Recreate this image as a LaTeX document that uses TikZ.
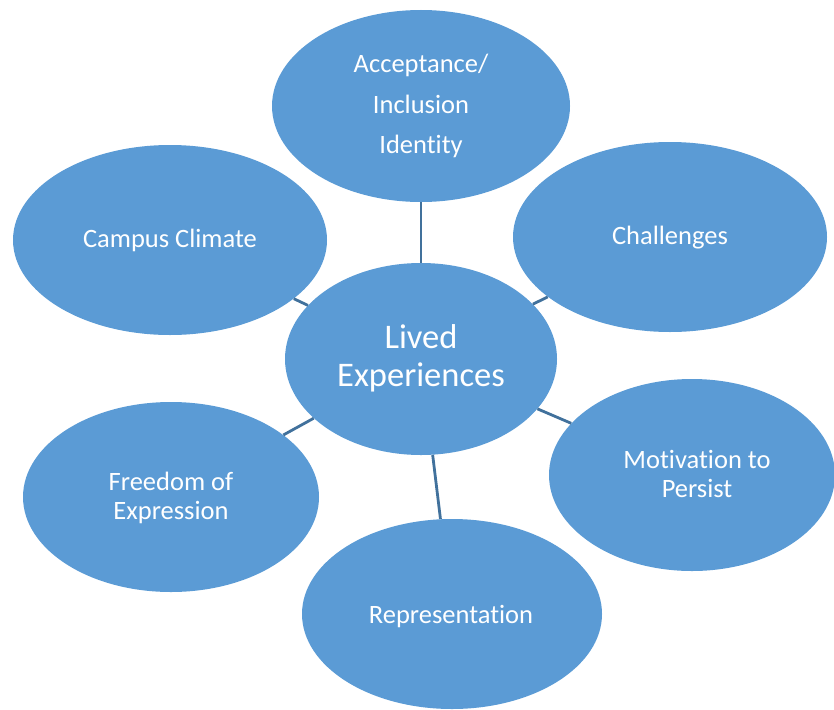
\documentclass[tikz,border=0pt]{standalone}
\usepackage{fontspec}
\setmainfont[Ligatures=NoCommon]{Carlito}
\usetikzlibrary{shapes.geometric}
\definecolor{bubble}{HTML}{5B9BD5}
\definecolor{link}{HTML}{41719C}
\begin{document}
\begin{tikzpicture}[x=1pt,y=-1pt,
  bubble/.style={ellipse,fill=bubble,draw=none,inner sep=0pt},
  link/.style={draw=link,line width=2.8pt},
  label/.style={text=white,anchor=base,inner sep=0pt,font=\fontsize{26.5}{29}\selectfont}]
\useasboundingbox (0,0) rectangle (834,709);
\begin{scope}
\clip (0,0) rectangle (834,709);
% theme bubbles
\node[bubble,minimum width=298pt,minimum height=192pt] (accept) at (421,106) {};
\node[bubble,minimum width=314pt,minimum height=190pt] (campus) at (170,240) {};
\node[bubble,minimum width=314pt,minimum height=190pt] (chall) at (670,237) {};
\node[bubble,minimum width=286pt,minimum height=192pt] (motiv) at (692,475) {};
\node[bubble,minimum width=296pt,minimum height=190pt] (freedom) at (171,497) {};
\node[bubble,minimum width=300pt,minimum height=190pt] (repr) at (452,614) {};
% central bubble
\node[bubble,minimum width=272pt,minimum height=192pt] (lived) at (421,359) {};
% connectors from the centre to each theme
\foreach \t in {accept,campus,chall,motiv,freedom,repr}
  \path[link] (lived) -- (\t);
\end{scope}
% texts
\node[label] (t1a) at (421,72) {Acceptance/};
\node[label] (t1b) at (421,113) {Inclusion};
\node[label] (t1c) at (421,153) {Identity};
\node[label] (t2) at (170,247) {Campus Climate};
\node[label] (t3) at (670,244) {Challenges};
\node[label] (t4a) at (697,468) {Motivation to};
\node[label] (t4b) at (697,497) {Persist};
\node[label] (t5a) at (171,490) {Freedom of};
\node[label] (t5b) at (171,519) {Expression};
\node[label] (t6) at (451,623) {Representation};
\node[label,font=\fontsize{34.5}{38}\selectfont] (t7a) at (421,348) {Lived};
\node[label,font=\fontsize{34.5}{38}\selectfont] (t7b) at (421,386) {Experiences};
\end{tikzpicture}
\end{document}
